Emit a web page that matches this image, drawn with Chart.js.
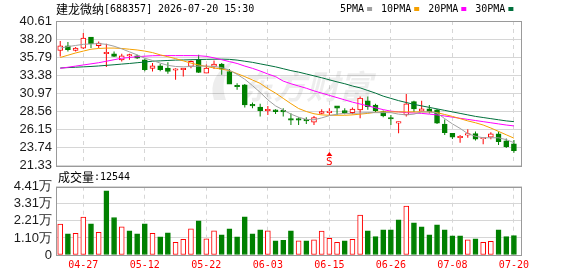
<!DOCTYPE html>
<html>
<head>
<meta charset="utf-8">
<script src="https://cdn.jsdelivr.net/npm/chart.js@4/dist/chart.umd.min.js"></script>
<style>
  html, body { margin: 0; padding: 0; background: #fff; }
  #wrap { position: relative; width: 578px; height: 276px; }
  #wrap canvas { position: absolute; left: 0; top: 0; }
</style>
</head>
<body>
<div id="wrap">
  <canvas id="priceChart" width="578" height="276"></canvas>
  <canvas id="volChart" width="578" height="276"></canvas>
</div>
<script>
// 建龙微纳 日K 数据
const stockName = '建龙微纳';
const stockCode = '[688357]';
const stamp = '2026-07-20 15:30';

const dates = ['04-22','04-23','04-24','04-27','04-28','04-29','04-30','05-06','05-07','05-08',
  '05-11','05-12','05-13','05-14','05-15','05-18','05-19','05-20','05-21','05-22',
  '05-25','05-26','05-27','05-28','05-29','06-01','06-02','06-03','06-04','06-05',
  '06-08','06-09','06-10','06-11','06-12','06-15','06-16','06-17','06-18','06-22',
  '06-23','06-24','06-25','06-26','06-29','06-30','07-01','07-02','07-03','07-06',
  '07-07','07-08','07-09','07-10','07-13','07-14','07-15','07-16','07-17','07-20'];
const xTickIdx = [3, 11, 19, 27, 35, 43, 51, 59];

const openP  = [36.68,37.31,36.70,37.00,38.47,37.31,36.25,36.24,35.44,35.95,35.98,35.44,34.28,34.64,34.33,34.05,34.11,34.55,35.44,33.66,
  34.55,34.87,33.88,32.05,32.10,29.50,29.13,28.65,28.76,28.70,27.60,27.60,27.50,27.12,28.30,28.40,29.30,28.67,28.40,28.76,
  29.97,29.40,28.54,27.75,27.00,28.10,29.87,28.60,28.90,28.76,26.86,25.65,25.05,25.40,25.60,24.92,25.12,25.57,24.63,24.23];
const highP  = [37.95,37.80,37.13,39.00,38.47,37.88,37.58,36.55,36.24,36.24,36.10,35.60,35.00,34.90,35.10,34.33,34.35,35.35,36.10,34.80,
  35.35,35.00,34.20,32.33,32.20,29.74,29.57,29.30,28.86,29.00,28.32,27.80,27.80,27.95,28.86,29.00,29.30,29.00,29.10,30.55,
  30.55,29.60,28.67,28.10,27.20,30.90,30.00,30.00,29.43,28.90,27.50,25.65,25.43,26.20,25.90,25.10,25.80,25.90,24.95,24.76];
const lowP   = [35.88,36.55,36.55,36.87,37.00,37.00,34.47,35.80,35.22,35.44,35.55,33.90,33.88,33.90,33.57,32.77,33.20,34.30,33.67,33.66,
  34.20,33.44,32.20,31.44,29.07,28.99,27.87,28.10,28.23,27.87,26.76,26.76,26.90,26.76,28.20,28.10,28.10,28.20,28.20,27.66,
  28.80,28.50,27.80,26.76,25.65,27.87,28.50,28.54,28.30,26.90,25.43,24.90,24.40,25.07,24.70,24.20,24.85,24.10,23.70,23.05];
const closeP = [37.31,36.78,37.00,38.34,37.58,37.67,36.45,35.88,35.98,36.15,35.66,34.11,34.64,34.11,33.88,34.25,34.33,35.22,33.75,34.33,
  34.87,34.20,32.20,31.85,29.43,29.30,28.67,28.85,28.54,28.50,27.40,27.40,27.30,27.74,28.54,28.60,29.00,28.40,28.86,30.33,
  29.20,28.67,27.96,27.55,27.20,29.57,28.90,28.90,28.54,26.99,25.73,25.12,25.25,25.60,24.85,25.08,25.57,24.53,23.87,23.33];

const ma5  = [37.0,37.2,37.35,37.5,37.55,37.6,37.5,37.25,36.9,36.5,36.1,35.65,35.35,35.0,34.7,34.55,34.5,34.55,34.6,34.6,
  34.55,34.4,34.05,33.5,32.85,32.0,31.1,30.1,29.3,28.76,28.2,27.8,27.5,27.45,27.7,28.0,28.2,28.3,28.3,28.35,
  28.4,28.4,28.4,28.4,28.2,28.1,28.2,28.5,28.5,28.35,27.6,26.9,26.3,25.6,25.25,25.05,25.05,25.05,24.8,24.4];
const ma10 = [35.75,36.05,36.35,36.6,36.85,36.95,37.0,37.0,36.95,36.85,36.75,36.6,36.4,36.1,35.85,35.6,35.3,35.0,34.75,34.55,
  34.35,34.2,34.0,33.6,33.2,32.75,32.3,31.6,31.0,30.3,29.6,28.95,28.55,28.25,28.1,28.05,28.05,28.05,28.1,28.2,
  28.3,28.45,28.5,28.5,28.5,28.5,28.5,28.5,28.5,28.4,28.15,27.9,27.6,27.3,27.05,26.75,26.35,25.9,25.45,25.0];
const ma20 = [34.3,34.45,34.6,34.75,34.9,35.05,35.25,35.45,35.65,35.75,35.85,35.92,35.98,36.0,36.0,36.0,36.0,36.0,35.98,35.9,
  35.7,35.45,35.2,34.95,34.6,34.3,33.95,33.55,33.2,32.6,32.25,31.95,31.65,31.3,31.0,30.7,30.4,30.1,29.8,29.55,
  29.3,29.05,28.8,28.6,28.5,28.4,28.35,28.3,28.2,28.1,27.95,27.8,27.65,27.5,27.35,27.2,27.05,26.9,26.75,26.63];
const ma30 = [34.35,34.4,34.45,34.5,34.55,34.62,34.7,34.78,34.87,34.95,35.05,35.15,35.25,35.3,35.35,35.4,35.42,35.45,35.48,35.5,
  35.52,35.53,35.5,35.4,35.25,35.1,34.9,34.7,34.5,34.25,34.0,33.8,33.55,33.3,33.05,32.77,32.5,32.25,31.95,31.7,
  31.35,31.0,30.6,30.3,30.0,29.75,29.5,29.3,29.1,28.9,28.7,28.5,28.3,28.1,27.9,27.75,27.6,27.45,27.3,27.2];
const maLabels = ['5PMA', '10PMA', '20PMA', '30PMA'];

const volume = [19900,13620,14070,24450,20100,14700,41500,24200,18160,15560,13620,20100,14070,11670,14270,8230,10180,16860,22050,10380,
  15560,12970,16860,11670,24640,13620,16210,15560,9080,9530,15560,9080,9080,9730,15370,10830,8230,9080,10180,25740,
  15560,11890,16210,16210,22700,31570,20750,18160,12970,19460,16210,12320,12320,9730,10380,8230,8880,16210,11890,12544];
const volUp = [1,0,1,1,0,1,0,0,1,0,0,0,1,0,0,1,1,1,0,1,
  1,0,0,0,0,0,0,1,0,0,0,1,0,1,1,1,1,0,1,1,
  0,0,0,0,0,1,0,0,0,0,0,0,0,1,0,1,1,0,0,0];
const volLabel = '成交量';

const priceTicks = [21.33, 23.74, 26.15, 28.56, 30.97, 33.38, 35.79, 38.20, 40.61];
const volTicks = [0, 11025, 22050, 33075, 44100];
const volTickLabels = ['0', '1.10万', '2.21万', '3.31万', '4.41万'];
const signalIdx = 35;
const signalText = 'S';

const red = '#ff0000', green = '#008000';
const maColors = ['#a0a0a0', '#f5a000', '#ff00ff', '#00703c'];
const gridColor = '#d6d6d6';
const frameColor = '#9a9a9a';
const monoFont = '"DejaVu Sans Mono", monospace';
const cjkFont = '"Noto Sans CJK SC", sans-serif';

Chart.defaults.font.family = '"Liberation Sans", Arial, sans-serif';

const upCandle = closeP.map((c, i) => c >= openP[i]);
const xRange = { min: -0.55, max: 60.05 };

function frame(chart) {
  const { ctx, chartArea: a } = chart;
  ctx.save();
  ctx.strokeStyle = frameColor;
  ctx.lineWidth = 1;
  ctx.strokeRect(Math.round(a.left) + 0.5, Math.round(a.top) + 0.5,
    Math.round(a.right) - Math.round(a.left) - 1, Math.round(a.bottom) - Math.round(a.top));
  ctx.restore();
}

const priceDecor = {
  id: 'priceDecor',
  beforeDatasetsDraw(chart) {
    const ctx = chart.ctx;
    ctx.save();
    ctx.fillStyle = 'rgba(0,0,0,0.07)';
    ctx.font = 'italic bold 33px ' + cjkFont;
    ctx.textBaseline = 'middle';
    ctx.fillText('东方财富', 240, 86);
    ctx.beginPath();
    ctx.moveTo(214, 100); ctx.quadraticCurveTo(206, 76, 236, 58);
    ctx.quadraticCurveTo(218, 78, 226, 100); ctx.closePath();
    ctx.fill();
    ctx.restore();
  },
  afterDatasetsDraw(chart) {
    frame(chart);
    const ctx = chart.ctx;
    const x = chart.scales.x.getPixelForValue(signalIdx);
    ctx.save();
    ctx.fillStyle = red;
    ctx.beginPath();
    ctx.moveTo(x, 152); ctx.lineTo(x - 3, 156); ctx.lineTo(x + 3, 156); ctx.closePath();
    ctx.fill();
    ctx.font = '11px ' + monoFont;
    ctx.textAlign = 'center';
    ctx.textBaseline = 'alphabetic';
    ctx.fillText(signalText, x, 165);
    ctx.restore();
  },
  afterDraw(chart) {
    const ctx = chart.ctx;
    ctx.save();
    ctx.textBaseline = 'middle';
    ctx.fillStyle = '#000';
    ctx.font = '12px ' + cjkFont;
    ctx.fillText(stockName, 56, 9);
    ctx.font = '10px ' + monoFont;
    ctx.fillText(stockCode, 104, 9);
    ctx.fillText(stamp, 158, 9);
    let lx = 340;
    maLabels.forEach((t, k) => {
      ctx.fillStyle = '#000';
      ctx.fillText(t, lx, 9);
      lx += ctx.measureText(t).width + 3;
      ctx.fillStyle = maColors[k];
      ctx.fillRect(lx, 7, 5, 4);
      lx += 14;
    });
    ctx.restore();
  }
};

const volDecor = {
  id: 'volDecor',
  afterDatasetsDraw(chart) { frame(chart); },
  afterDraw(chart) {
    const ctx = chart.ctx;
    ctx.save();
    ctx.fillStyle = '#000';
    ctx.textBaseline = 'middle';
    ctx.font = '12px ' + cjkFont;
    ctx.fillText(volLabel, 58, 177);
    ctx.font = '10px ' + monoFont;
    ctx.fillText(':' + volume[volume.length - 1], 94, 177);
    ctx.restore();
  }
};

const lineSet = (data, k) => ({
  type: 'line', label: maLabels[k],
  data: data.map((v, i) => ({ x: i, y: v })),
  borderColor: maColors[k], borderWidth: 1, pointRadius: 0, tension: 0, order: k
});

new Chart(document.getElementById('priceChart'), {
  type: 'bar',
  data: {
    datasets: [
      lineSet(ma5, 0), lineSet(ma10, 1), lineSet(ma20, 2), lineSet(ma30, 3),
      {
        label: 'body',
        data: openP.map((o, i) => ({ x: i, y: [o, closeP[i]] })),
        backgroundColor: upCandle.map(u => u ? '#ffffff' : green),
        borderColor: upCandle.map(u => u ? red : green),
        borderWidth: 1, borderSkipped: false, barThickness: 5, grouped: false, order: 10
      },
      {
        label: 'wick',
        data: lowP.map((l, i) => ({ x: i, y: [l, highP[i]] })),
        backgroundColor: upCandle.map(u => u ? red : green),
        borderWidth: 0, barThickness: 1, inflateAmount: 0, grouped: false, order: 11
      }
    ]
  },
  options: {
    responsive: false, animation: false,
    layout: { padding: { top: 21, bottom: 110.3, left: 0, right: 56 } },
    plugins: { legend: { display: false }, tooltip: { enabled: false } },
    scales: {
      x: {
        type: 'linear', min: xRange.min, max: xRange.max, offset: false,
        afterBuildTicks: s => { s.ticks = xTickIdx.map(v => ({ value: v })); },
        afterFit: s => { s.height = 0; },
        ticks: { display: false },
        grid: { color: gridColor, drawTicks: false, offset: false },
        border: { display: false, dash: [4, 4] }
      },
      y: {
        min: priceTicks[0], max: priceTicks[priceTicks.length - 1],
        afterBuildTicks: s => { s.ticks = priceTicks.map(v => ({ value: v })); },
        afterFit: s => { s.width = 56; },
        ticks: { padding: 4, color: '#1a1a1a', font: { size: 13 }, autoSkip: false,
          callback: v => v.toFixed(2) },
        grid: { color: gridColor, drawTicks: false },
        border: { display: false }
      }
    }
  },
  plugins: [priceDecor]
});

new Chart(document.getElementById('volChart'), {
  type: 'bar',
  data: {
    datasets: [{
      label: volLabel,
      data: volume.map((v, i) => ({ x: i, y: v })),
      backgroundColor: volUp.map(u => u ? '#ffffff' : green),
      borderColor: volUp.map(u => u ? red : green),
      borderWidth: 1, borderSkipped: false, barThickness: 5, grouped: false
    }]
  },
  options: {
    responsive: false, animation: false,
    layout: { padding: { top: 186.7, bottom: 0, left: 0, right: 56 } },
    plugins: { legend: { display: false }, tooltip: { enabled: false } },
    scales: {
      x: {
        type: 'linear', min: xRange.min, max: xRange.max, offset: false,
        afterBuildTicks: s => { s.ticks = xTickIdx.map(v => ({ value: v })); },
        afterFit: s => { s.height = 21; },
        ticks: { padding: 4, color: red, autoSkip: false, maxRotation: 0,
          font: { family: monoFont, size: 10 }, callback: v => dates[v] },
        grid: { color: gridColor, drawTicks: false, offset: false },
        border: { display: false, dash: [4, 4] }
      },
      y: {
        min: 0, max: volTicks[volTicks.length - 1],
        afterBuildTicks: s => { s.ticks = volTicks.map(v => ({ value: v })); },
        afterFit: s => { s.width = 56; },
        ticks: { padding: 4, color: '#1a1a1a', font: { size: 13 }, autoSkip: false,
          callback: (v, i) => volTickLabels[i] },
        grid: { color: gridColor, drawTicks: false },
        border: { display: false }
      }
    }
  },
  plugins: [volDecor]
});
</script>
</body>
</html>
